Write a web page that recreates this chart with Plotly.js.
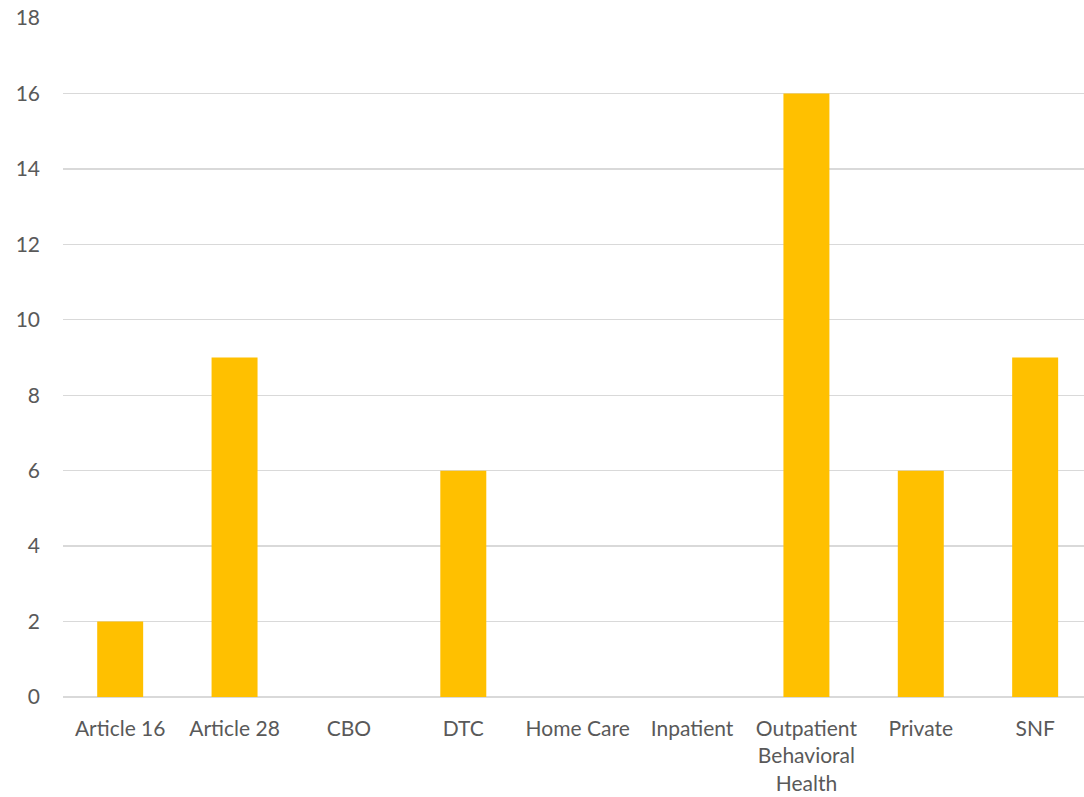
<!DOCTYPE html>
<html>
<head>
<meta charset="utf-8">
<script src="https://cdn.plot.ly/plotly-3.0.1.min.js"></script>
<style>html,body{margin:0;padding:0;background:#fff;overflow:hidden}</style>
</head>
<body>
<div id="chart" style="width:1084px;height:797px"></div>
<script>
const categories = ["Article 16", "Article 28", "CBO", "DTC", "Home Care", "Inpatient", "Outpatient<br>Behavioral<br>Health", "Private", "SNF"];
const values = [2, 9, 0, 6, 0, 0, 16, 6, 9];
const yTicks = [0, 2, 4, 6, 8, 10, 12, 14, 16, 18];

const font = {family: "Lato, 'Open Sans', sans-serif", size: 21, color: "#595959"};

Plotly.newPlot("chart", [{
  type: "bar",
  x: categories,
  y: values,
  marker: {color: "#FFC000"},
  hoverinfo: "none"
}], {
  width: 1084,
  height: 797,
  margin: {l: 63, r: 0, t: 18, b: 100},
  paper_bgcolor: "#ffffff",
  plot_bgcolor: "#ffffff",
  bargap: 0.598,
  showlegend: false,
  font: font,
  xaxis: {
    type: "category",
    range: [-0.5, 8.427],
    showgrid: false,
    zeroline: false,
    showline: false,
    ticks: "",
    tickfont: font,
    ticklabelstandoff: 17,
    fixedrange: true
  },
  yaxis: {
    range: [0, 18],
    tickvals: yTicks,
    showgrid: true,
    gridcolor: "#d9d9d9",
    gridwidth: 1.3,
    zeroline: true,
    zerolinecolor: "#d9d9d9",
    zerolinewidth: 1.3,
    showline: false,
    ticks: "",
    tickfont: font,
    ticklabelstandoff: 22,
    fixedrange: true
  }
}, {displayModeBar: false, staticPlot: true});
</script>
</body>
</html>
